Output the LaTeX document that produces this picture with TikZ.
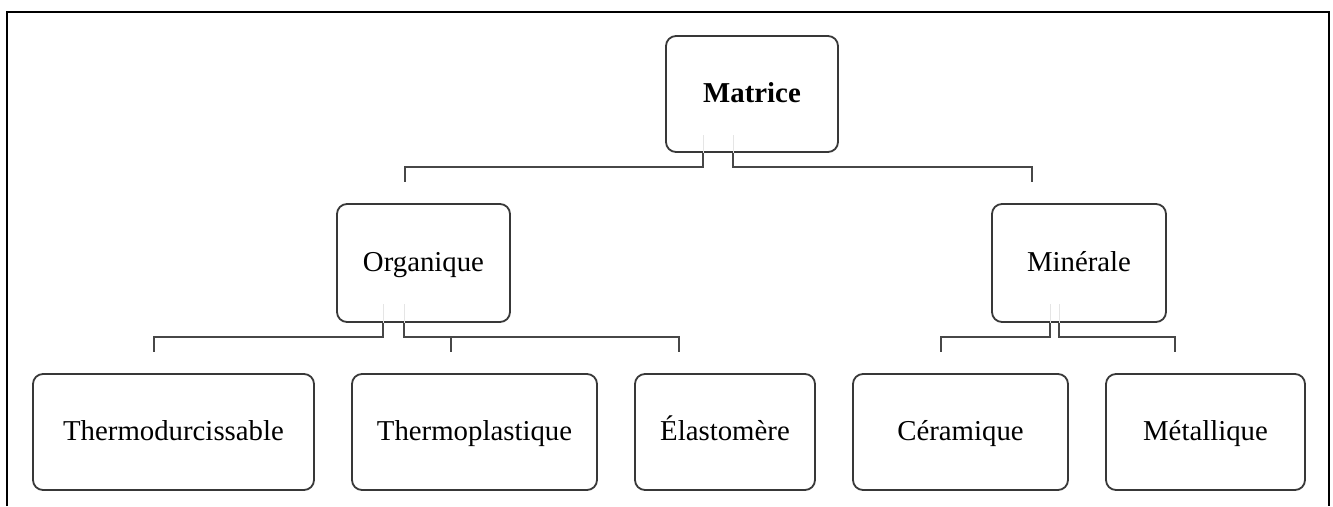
\documentclass[tikz,border=0pt]{standalone}
\usepackage{fontspec}
\setmainfont{Liberation Serif}
\begin{document}
\begin{tikzpicture}[x=1pt,y=-1pt,
  box/.style={draw=black!78, line width=1.8pt, rounded corners=10pt,
    text height=19pt, text depth=3pt, inner sep=0pt,
    font=\fontsize{28.8}{34}\selectfont},
  conn/.style={draw=black!72, line width=1.8pt},
  faint/.style={draw=black!10, line width=1pt},
  frame/.style={draw=black, line width=2pt}]
\useasboundingbox (0,0) rectangle (1333,506);

% outer frame, open at the bottom
\draw[frame] (7,506) -- (7,12) -- (1329,12) -- (1329,506);

% boxes
\node[box, minimum width=172pt, minimum height=116pt] (mat) at (752,94) {\bfseries Matrice};
\node[box, minimum width=173pt, minimum height=118pt] (org) at (423.5,263) {Organique};
\node[box, minimum width=174pt, minimum height=118pt] (min) at (1079,263) {Minérale};
\node[box, minimum width=281pt, minimum height=116pt] (tdu) at (173.5,432) {Thermodurcissable};
\node[box, minimum width=245pt, minimum height=116pt] (tpl) at (474.5,432) {Thermoplastique};
\node[box, minimum width=180pt, minimum height=116pt] (ela) at (725,432) {Élastomère};
\node[box, minimum width=215pt, minimum height=116pt] (cer) at (960.5,432) {Céramique};
\node[box, minimum width=199pt, minimum height=116pt] (met) at (1205.5,432) {Métallique};

% tap points inside the parent boxes
\coordinate (mL) at (703,135);
\coordinate (mR) at (733,135);
\coordinate (oL) at (383,304);
\coordinate (oR) at (404,304);
\coordinate (nL) at (1050,304);
\coordinate (nR) at (1059,304);

% free ends above the child boxes
\coordinate (orgT) at (405,182);
\coordinate (minT) at (1032,182);
\coordinate (tduT) at (154,352);
\coordinate (tplT) at (451,352);
\coordinate (elaT) at (679,352);
\coordinate (cerT) at (941,352);
\coordinate (metT) at (1175,352);

% faint stubs inside the parent boxes
\foreach \c/\p in {mL/mat, mR/mat, oL/org, oR/org, nL/min, nR/min}
  \draw[faint] (\c) -- (\c |- \p.south);

% Matrice branches
\draw[conn] (mL |- mat.south) -- ++(0,14) -| (orgT);
\draw[conn] (mR |- mat.south) -- ++(0,14) -| (minT);

% Organique branches
\draw[conn] (oL |- org.south) -- ++(0,14) -| (tduT);
\draw[conn] (oR |- org.south) -- ++(0,14) -| (elaT);
\draw[conn] (tplT |- 0,336) -- (tplT);

% Minérale branches
\draw[conn] (nL |- min.south) -- ++(0,14) -| (cerT);
\draw[conn] (nR |- min.south) -- ++(0,14) -| (metT);
\end{tikzpicture}
\end{document}
